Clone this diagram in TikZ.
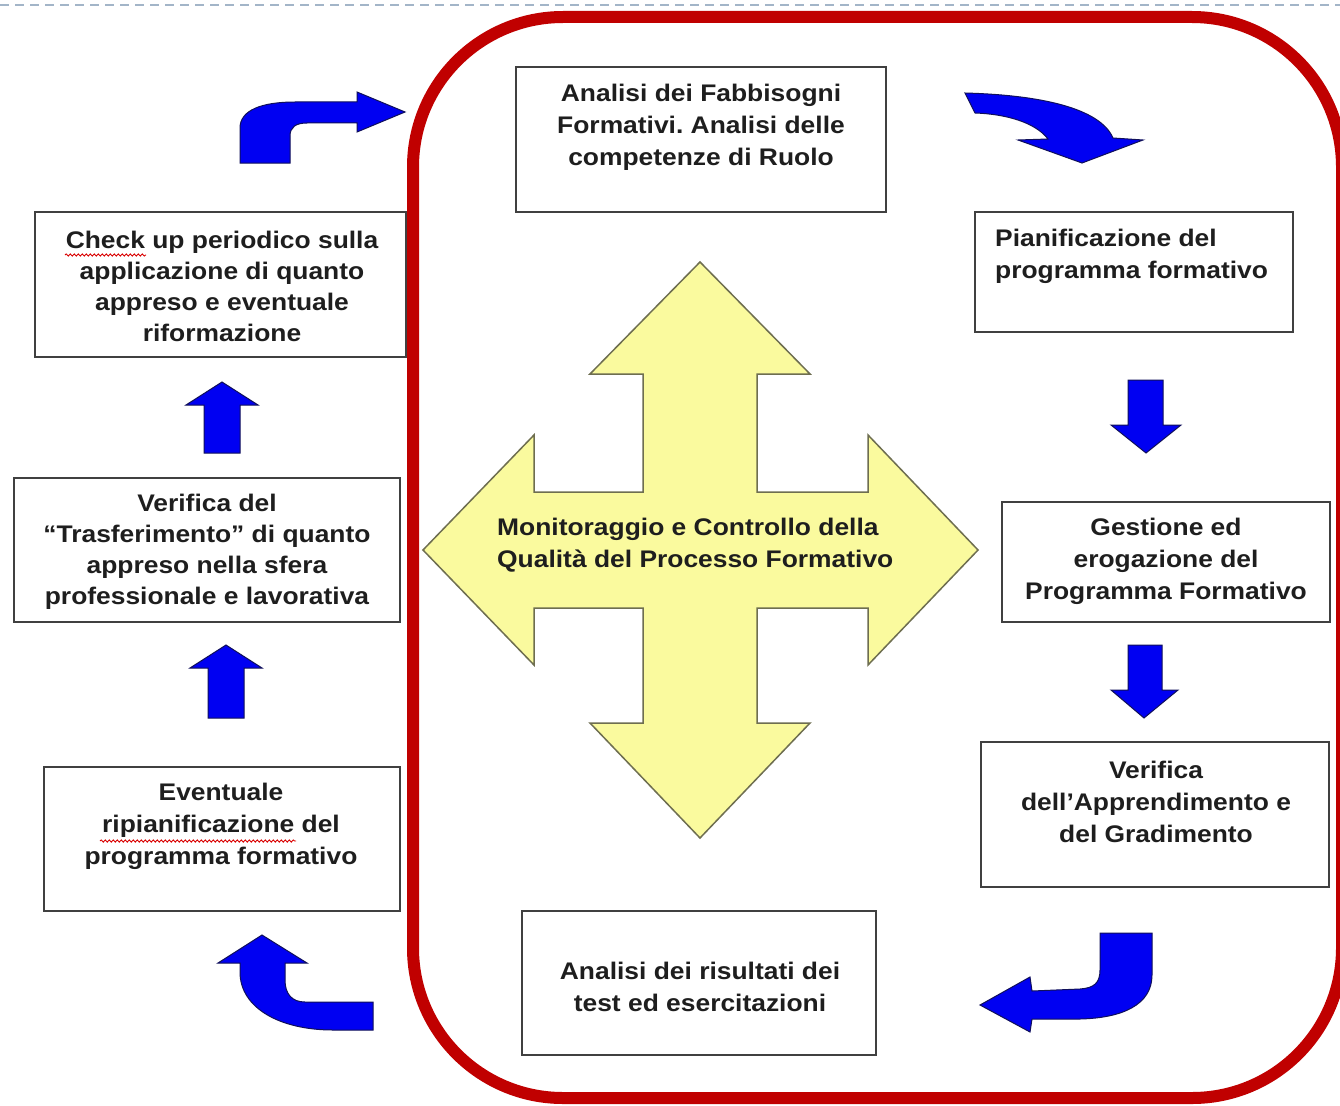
\documentclass[tikz,border=0pt]{standalone}
\usepackage{fontspec}
\setmainfont{Liberation Sans}[FakeStretch=1.1]
\usetikzlibrary{decorations.pathmorphing}
\frenchspacing
\definecolor{frame}{HTML}{C00000}
\definecolor{boxline}{HTML}{404040}
\definecolor{arrowblue}{HTML}{0000F2}
\definecolor{arrowedge}{HTML}{10105A}
\definecolor{crossfill}{HTML}{FAFA9E}
\definecolor{crossedge}{HTML}{6E6E50}
\definecolor{dashc}{HTML}{A3B5C8}
\definecolor{txt}{HTML}{1E1E1E}
\tikzset{
  box/.style={draw=boxline, line width=2.2pt, fill=white, inner sep=0pt},
  lbl/.style={font=\bfseries\fontsize{24}{32}\selectfont, text=txt, align=center, inner sep=0pt},
  blk/.style={fill=arrowblue, draw=arrowedge, line width=1pt},
  squiggle/.style={draw=red!85!black, line width=0.9pt, decorate, decoration={snake, amplitude=1.1pt, segment length=4pt}}
}
\begin{document}
\begin{tikzpicture}[x=1pt,y=-1pt]
\clip (0,0) rectangle (1340,1105);
\useasboundingbox (0,0) rectangle (1340,1105);
\fill[white] (0,0) rectangle (1340,1105);
% top dashed line
\draw[dashc, line width=2.5pt, dash pattern=on 9pt off 6pt] (0,5) -- (1340,5);

% boxes
\node[box, minimum width=370pt, minimum height=145pt] (b1) at (701,139.5) {};
\node[box, minimum width=318pt, minimum height=120pt] (b2) at (1134,272) {};
\node[box, minimum width=328pt, minimum height=120pt] (b3) at (1166,562) {};
\node[box, minimum width=348pt, minimum height=145pt] (b4) at (1155,814.5) {};
\node[box, minimum width=354pt, minimum height=144pt] (b5) at (699,983) {};
\node[box, minimum width=356pt, minimum height=144pt] (b6) at (222,839) {};
\node[box, minimum width=386pt, minimum height=144pt] (b7) at (207,550) {};
\node[box, minimum width=371pt, minimum height=145pt] (b8) at (220.5,284.5) {};

% texts
\node[lbl] (t1) at (701,127) {Analisi dei Fabbisogni\\Formativi. Analisi delle\\competenze di Ruolo};
\node[lbl, align=left, anchor=west] (t2) at (995,256) {Pianificazione del\\programma formativo};
\node[lbl] (t3) at (1166,561) {Gestione ed\\erogazione del\\Programma Formativo};
\node[lbl] (t4) at (1156,802) {Verifica\\dell’Apprendimento e\\del Gradimento};
\node[lbl] (t5) at (700,987) {Analisi dei risultati dei\\test ed esercitazioni};
\node[lbl] (t6) at (221,826) {Eventuale\\ripianificazione del\\programma formativo};
\node[lbl, font=\bfseries\fontsize{24}{31}\selectfont] (t7) at (207,552) {Verifica del\\“Trasferimento” di quanto\\appreso nella sfera\\professionale e lavorativa};
\node[lbl, font=\bfseries\fontsize{24}{31}\selectfont] (t8) at (222,286) {Check up periodico sulla\\applicazione di quanto\\appreso e eventuale\\riformazione};

% spell-check squiggles
\path[squiggle] (65,255) -- (146,255);
\path[squiggle] (100,841) -- (296,841);

% central cross arrow
\draw[fill=crossfill, draw=crossedge, line width=1.5pt, line join=miter]
  (700,262) -- (810,374) -- (757,374) -- (757,492) -- (868,492) -- (868,435)
  -- (978,550) -- (868,665) -- (868,608) -- (757,608) -- (757,723) -- (810,723)
  -- (700,838) -- (590,723) -- (643,723) -- (643,608) -- (534,608) -- (534,665)
  -- (423,550) -- (534,435) -- (534,492) -- (643,492) -- (643,374) -- (590,374) -- cycle;
\node[lbl, align=left, anchor=west] (tc) at (497,545) {Monitoraggio e Controllo della\\Qualità del Processo Formativo};

% straight blue arrows
\draw[blk] (1128,380) -- (1163,380) -- (1163,425) -- (1181,425) -- (1146,453) -- (1111,425) -- (1128,425) -- cycle;
\draw[blk] (1128,645) -- (1162,645) -- (1162,690) -- (1178,690) -- (1144,718) -- (1111,690) -- (1128,690) -- cycle;
\draw[blk] (204,453) -- (204,405) -- (186,405) -- (222,382) -- (258,405) -- (240,405) -- (240,453) -- cycle;
\draw[blk] (208,718) -- (208,668) -- (190,668) -- (226,645) -- (262,668) -- (244,668) -- (244,718) -- cycle;

% curved blue arrows
\draw[blk] (240,163) -- (240,128) .. controls (240,110) and (262,102) .. (295,102)
  -- (357,102) -- (357,92) -- (405,112) -- (357,132) -- (357,123) -- (307,123)
  .. controls (296,123) and (290,127) .. (290,136) -- (290,163) -- cycle;
\draw[blk] (965,93) .. controls (1040,95) and (1100,108) .. (1113,138) -- (1143,140)
  -- (1082,163) -- (1018,140) -- (1048,139) .. controls (1035,122) and (1005,114) .. (975,113) -- cycle;
\draw[blk] (1100,933) -- (1152,933) -- (1152,975) .. controls (1152,1005) and (1122,1018) .. (1080,1019)
  -- (1032,1019) -- (1030,1032) -- (980,1005) -- (1030,977) -- (1032,991) -- (1080,989)
  .. controls (1094,988) and (1100,983) .. (1100,970) -- cycle;
\draw[blk] (262,935) -- (307,963) -- (285,963) -- (285,980) .. controls (285,994) and (292,1002) .. (305,1002)
  -- (373,1002) -- (373,1030) -- (333,1030) .. controls (280,1030) and (240,1008) .. (240,972)
  -- (240,963) -- (218,963) -- cycle;

% red rounded frame
\draw[frame, line width=12pt, rounded corners=150pt] (413,17) rectangle (1342,1098);
\end{tikzpicture}
\end{document}
